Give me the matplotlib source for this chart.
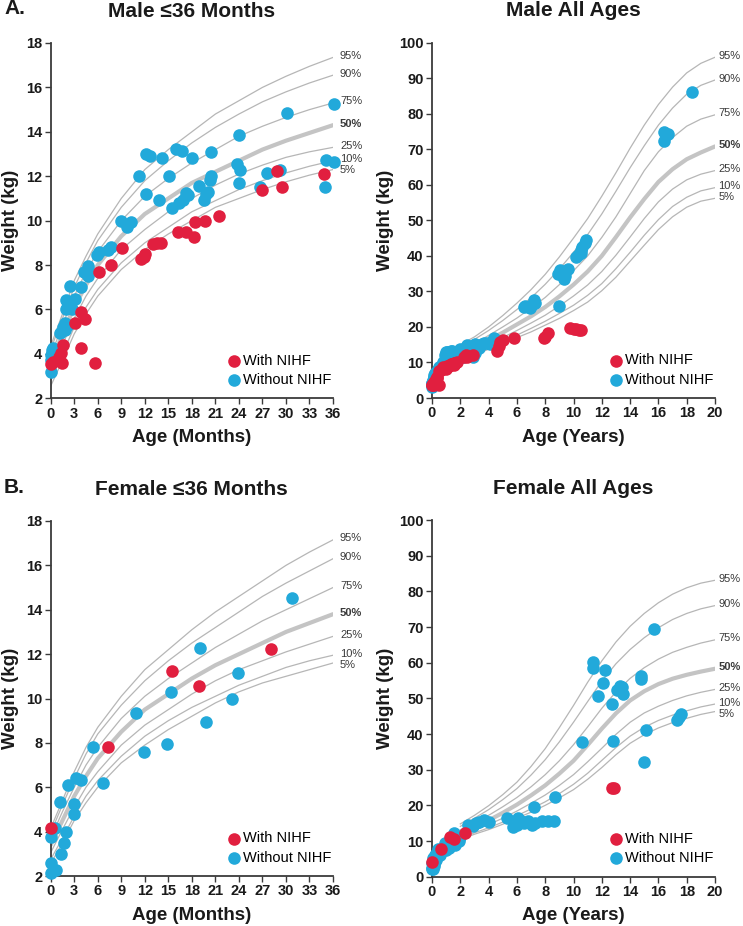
import numpy as np
import matplotlib
matplotlib.use('Agg')
import matplotlib.pyplot as plt

plt.rcParams['font.family'] = ['Liberation Sans', 'DejaVu Sans']

RED = '#E11F3F'
BLUE = '#22A9DA'
AXC = '#3a3a3a'

# ---- percentile curves ----
pct_labels = ['95%', '90%', '75%', '50%', '25%', '10%', '5%']

inf_ages = [0, 1.5, 3, 4.5, 6, 9, 12, 15, 18, 21, 24, 27, 30, 33, 36]
boy_inf_p95 = [4.35, 5.8, 7.3, 8.4, 9.4, 11.0, 12.3, 13.2, 14.0, 14.8, 15.4, 16.0, 16.5, 16.95, 17.35]
boy_inf_p90 = [4.2, 5.6, 7.0, 8.1, 9.1, 10.6, 11.8, 12.7, 13.5, 14.2, 14.8, 15.35, 15.8, 16.2, 16.55]
boy_inf_p75 = [3.9, 5.3, 6.6, 7.7, 8.6, 10.0, 11.1, 11.9, 12.6, 13.2, 13.8, 14.25, 14.65, 15.0, 15.3]
boy_inf_p50 = [3.5, 4.9, 6.1, 7.1, 8.0, 9.3, 10.3, 11.0, 11.7, 12.2, 12.7, 13.2, 13.6, 13.95, 14.3]
boy_inf_p25 = [3.15, 4.4, 5.6, 6.6, 7.4, 8.7, 9.6, 10.4, 11.0, 11.6, 12.1, 12.5, 12.85, 13.1, 13.3]
boy_inf_p10 = [2.8, 4.0, 5.2, 6.1, 6.9, 8.1, 9.0, 9.7, 10.4, 10.9, 11.4, 11.8, 12.15, 12.45, 12.7]
boy_inf_p5 = [2.55, 3.7, 4.9, 5.8, 6.6, 7.8, 8.7, 9.4, 10.0, 10.6, 11.0, 11.4, 11.75, 12.05, 12.3]

girl_inf_p95 = [4.15, 5.4, 6.7, 7.8, 8.7, 10.1, 11.3, 12.2, 13.1, 13.9, 14.6, 15.3, 16.0, 16.6, 17.15]
girl_inf_p90 = [3.95, 5.2, 6.4, 7.5, 8.4, 9.7, 10.8, 11.7, 12.5, 13.2, 13.9, 14.6, 15.2, 15.75, 16.3]
girl_inf_p75 = [3.7, 4.9, 6.0, 7.0, 7.8, 9.1, 10.1, 10.9, 11.6, 12.3, 12.9, 13.5, 14.0, 14.5, 15.0]
girl_inf_p50 = [3.4, 4.5, 5.6, 6.5, 7.3, 8.5, 9.5, 10.2, 10.9, 11.5, 12.0, 12.5, 13.0, 13.4, 13.8]
girl_inf_p25 = [3.05, 4.1, 5.1, 6.0, 6.7, 7.9, 8.8, 9.5, 10.2, 10.8, 11.3, 11.7, 12.1, 12.45, 12.8]
girl_inf_p10 = [2.75, 3.7, 4.7, 5.6, 6.3, 7.4, 8.3, 9.0, 9.6, 10.1, 10.6, 11.0, 11.4, 11.7, 11.95]
girl_inf_p5 = [2.55, 3.5, 4.5, 5.3, 6.0, 7.1, 7.9, 8.6, 9.2, 9.8, 10.3, 10.7, 11.0, 11.3, 11.6]

child_ages = [2, 3, 4, 5, 6, 7, 8, 9, 10, 11, 12, 13, 14, 15, 16, 17, 18, 19, 20]
boy_ch_p95 = [15.0, 17.2, 20.0, 23.2, 26.7, 30.5, 34.8, 39.7, 45.0, 50.5, 56.8, 63.4, 70.3, 76.8, 82.6, 87.5, 91.5, 94.2, 95.9]
boy_ch_p90 = [14.5, 16.5, 19.0, 21.8, 24.9, 28.2, 32.0, 36.3, 41.0, 46.0, 51.8, 58.2, 64.8, 71.0, 76.8, 81.6, 85.5, 88.0, 89.5]
boy_ch_p75 = [13.6, 15.3, 17.6, 20.0, 22.5, 25.3, 28.3, 31.9, 35.8, 40.0, 45.2, 51.0, 57.5, 64.0, 69.3, 73.3, 76.5, 78.5, 79.7]
boy_ch_p50 = [12.7, 14.3, 16.3, 18.4, 20.7, 23.0, 25.6, 28.6, 31.9, 35.6, 40.0, 45.3, 50.8, 56.0, 60.8, 64.4, 67.2, 69.1, 70.8]
boy_ch_p25 = [11.9, 13.4, 15.2, 17.0, 19.0, 21.1, 23.3, 25.9, 28.7, 31.8, 35.6, 40.2, 45.3, 50.5, 55.2, 58.8, 61.4, 63.0, 64.0]
boy_ch_p10 = [11.2, 12.6, 14.2, 15.9, 17.7, 19.6, 21.6, 23.8, 26.1, 28.9, 32.2, 36.4, 41.0, 45.8, 50.2, 53.9, 56.5, 58.3, 59.2]
boy_ch_p5 = [10.8, 12.2, 13.7, 15.3, 17.0, 18.6, 20.5, 22.4, 24.6, 27.0, 30.2, 34.0, 38.5, 43.0, 47.4, 51.0, 53.7, 55.4, 56.2]

girl_ch_p95 = [14.8, 17.2, 19.9, 23.0, 26.5, 30.9, 35.9, 41.8, 48.0, 54.5, 60.5, 65.8, 70.2, 73.8, 76.8, 79.2, 81.0, 82.3, 83.1]
girl_ch_p90 = [14.1, 16.4, 18.8, 21.6, 24.7, 28.5, 32.8, 37.8, 43.3, 49.1, 54.8, 59.7, 63.7, 67.0, 69.8, 72.1, 73.8, 75.1, 76.0]
girl_ch_p75 = [13.1, 15.2, 17.2, 19.6, 22.2, 25.2, 28.6, 32.5, 37.0, 42.0, 47.2, 51.8, 55.6, 58.6, 61.0, 62.9, 64.3, 65.5, 66.4]
girl_ch_p50 = [12.2, 14.1, 15.8, 17.9, 20.2, 22.8, 25.6, 28.9, 32.5, 36.9, 41.5, 45.8, 49.4, 52.0, 54.0, 55.5, 56.6, 57.5, 58.3]
girl_ch_p25 = [11.3, 13.1, 14.6, 16.4, 18.4, 20.6, 22.9, 25.6, 28.6, 32.2, 36.0, 39.9, 43.3, 45.9, 47.8, 49.4, 50.7, 51.7, 52.5]
girl_ch_p10 = [10.7, 12.3, 13.7, 15.3, 17.1, 19.0, 21.0, 23.3, 25.9, 29.0, 32.6, 36.2, 39.4, 41.9, 43.8, 45.3, 46.5, 47.6, 48.4]
girl_ch_p5 = [10.4, 11.9, 13.2, 14.7, 16.4, 18.1, 20.0, 22.1, 24.4, 27.3, 30.6, 34.2, 37.4, 39.8, 41.7, 43.2, 44.4, 45.5, 46.3]

# ---- patients, age <= 36 months (months, kg) ----
male_inf_with_age = [28.8, 34.9, 26.9, 29.5, 21.5, 18.4, 19.7, 18.3, 16.2, 17.2, 13.5, 14.1, 13.1, 12.0, 11.5,
                     11.9, 9.1, 7.7, 6.2, 3.9, 4.4, 3.1, 1.6, 1.3, 1.4, 3.9, 5.6, 0.0, 0.3, 1.0]
male_inf_with_wt = [12.23, 12.1, 11.4, 11.5, 10.2, 9.95, 9.97, 9.28, 9.5, 9.5, 8.99, 8.99, 8.96, 8.5, 8.26,
                    8.36, 8.77, 8.0, 7.68, 5.9, 5.55, 5.37, 4.4, 4.02, 3.6, 4.25, 3.57, 3.55, 3.65, 3.87]
male_inf_without_age = [36.1, 30.1, 24.0, 12.2, 12.6, 14.2, 16.0, 16.7, 18.0, 20.4, 11.2, 15.1, 23.8, 24.1, 24.0,
                        20.5, 20.3, 27.6, 29.2, 35.1, 36.1, 35.0, 26.7, 18.9, 20.1, 17.5, 17.3, 12.1, 13.8, 16.3,
                        16.9, 15.5, 19.6, 19.8, 9.0, 9.7, 10.3, 6.1, 5.9, 7.3, 7.7, 4.2, 4.7, 4.8, 4.7,
                        3.9, 2.5, 2.0, 3.1, 2.5, 2.0, 2.7, 1.8, 1.6, 1.2, 2.2, 1.8, 0.15, 0.0, 0.1, 0.0, 0.3]
male_inf_without_wt = [15.24, 14.83, 13.85, 13.0, 12.9, 12.84, 13.24, 13.13, 12.84, 13.08, 12.0, 12.03, 12.56, 12.3, 11.68,
                       12.03, 11.82, 12.13, 12.26, 12.72, 12.63, 11.53, 11.53, 11.55, 11.28, 11.15, 11.26, 11.22, 10.93, 10.78,
                       10.95, 10.55, 10.92, 11.2, 10.0, 9.7, 9.96, 8.6, 8.44, 8.66, 8.81, 7.69, 7.78, 7.94, 7.49,
                       7.01, 7.04, 6.42, 6.45, 6.27, 6.04, 6.04, 5.37, 5.22, 4.95, 5.29, 5.07, 4.17, 3.95, 3.72, 3.2, 4.25]

female_inf_with_age = [15.5, 28.1, 18.9, 7.3, 0.0]
female_inf_with_wt = [11.25, 12.24, 10.55, 7.83, 4.15]
female_inf_without_age = [30.8, 19.0, 23.9, 15.3, 23.1, 10.9, 19.8, 14.8, 11.9, 5.4, 6.7, 3.2, 3.9, 2.25, 1.2,
                          3.0, 3.0, 1.95, 1.7, 1.3, 0.0, 0.55, 0.0, 0.1, 0.64]
female_inf_without_wt = [14.55, 12.27, 11.15, 10.3, 9.97, 9.33, 8.92, 7.93, 7.57, 7.83, 6.17, 6.43, 6.32, 6.1, 5.32,
                         5.24, 4.78, 4.0, 3.47, 2.98, 3.74, 4.15, 2.57, 2.15, 2.27]

# ---- patients older than 36 months (years, kg) ----
male_old_with_age = [4.6, 4.75, 4.8, 5.04, 5.8, 7.9, 8.0, 8.2, 9.75, 10.0, 10.2, 10.4, 10.5]
male_old_with_wt = [13.3, 14.5, 15.8, 16.3, 17.0, 16.8, 17.3, 18.2, 19.8, 19.5, 19.3, 19.1, 19.0]
male_old_without_age = [3.3, 3.5, 3.7, 3.9, 4.1, 4.3, 4.4, 6.5, 6.6, 6.95, 7.1, 7.2, 7.3, 8.9, 9.0,
                        9.06, 9.1, 9.2, 9.3, 9.4, 9.6, 10.2, 10.35, 10.5, 10.5, 10.6, 10.8, 10.9, 16.4, 16.7,
                        16.4, 18.4]
male_old_without_wt = [14.2, 15.2, 15.4, 15.6, 15.3, 16.2, 16.9, 25.7, 25.9, 25.2, 26.2, 27.6, 26.6, 35.0, 26.0,
                       36.0, 35.0, 34.6, 33.6, 34.2, 36.3, 39.7, 40.2, 40.7, 41.6, 42.5, 43.5, 44.6, 74.8, 74.2,
                       72.2, 86.0]

female_old_with_age = [12.75, 12.85]
female_old_with_wt = [24.8, 24.8]
female_old_without_age = [2.9, 3.1, 3.3, 3.7, 4.0, 5.3, 5.7, 6.0, 6.1, 6.3, 6.5, 6.8, 7.05, 7.3, 7.75,
                          8.2, 8.6, 7.2, 8.7, 10.6, 12.8, 15.1, 15.0, 17.3, 17.45, 17.6, 11.7, 12.75, 13.1, 13.4,
                          13.5, 12.1, 11.4, 11.35, 12.2, 13.3, 14.8, 14.8, 15.7]
female_old_without_wt = [14.3, 15.1, 15.4, 16.0, 15.4, 16.4, 14.0, 14.6, 16.4, 15.5, 15.1, 15.5, 14.6, 15.1, 15.5,
                         15.5, 15.7, 19.6, 22.3, 37.7, 38.1, 41.1, 32.2, 43.9, 44.8, 45.6, 50.7, 48.4, 52.3, 53.3,
                         51.2, 54.3, 60.2, 58.4, 58.0, 53.5, 56.3, 55.3, 69.5]


W, H = 743, 926
fig = plt.figure(figsize=(W / 100, H / 100), dpi=100)


def box(x0, x1, ytop, ybot):
    return [x0 / W, 1 - ybot / H, (x1 - x0) / W, (ybot - ytop) / H]


def style(ax, xticks, yticks, xlab, ylab_x):
    for s in ['top', 'right']:
        ax.spines[s].set_visible(False)
    for s in ['left', 'bottom']:
        ax.spines[s].set_color(AXC)
        ax.spines[s].set_linewidth(1.3)
    ax.set_xticks(xticks)
    ax.set_yticks(yticks)
    ax.set_xlim(xticks[0], xticks[-1])
    ax.set_ylim(yticks[0], yticks[-1])
    ax.tick_params(direction='out', length=4, width=1, color=AXC, labelsize=10.5, pad=2, labelcolor='#1a1a1a')
    for t in ax.get_xticklabels() + ax.get_yticklabels():
        t.set_fontweight('bold')
    ax.set_xlabel(xlab, fontsize=13.5, fontweight='bold', color='#1a1a1a')
    ax.set_ylabel('Weight (kg)', fontsize=13.5, fontweight='bold', color='#1a1a1a')
    ax.xaxis.set_label_coords(0.5, -0.11)
    ax.xaxis.label.set_va('center')
    ax.yaxis.set_label_coords(ylab_x, 0.5)
    ax.yaxis.label.set_va('center')


def curves(ax, ages, series, dx):
    ends = []
    for lab, vals in zip(pct_labels, series):
        if lab == '50%':
            ax.plot(ages, vals, color='#c4c4c4', lw=3.0, solid_capstyle='round', zorder=1)
        else:
            ax.plot(ages, vals, color='#b6b6b6', lw=0.9, zorder=1)
        ends.append(vals[-1])
    # spread the end labels so they do not overlap
    pix = [ax.transData.transform((ages[-1], v))[1] for v in ends]
    for i in range(1, len(pix)):
        if pix[i - 1] - pix[i] < 11:
            pix[i] = pix[i - 1] - 11
    inv = ax.transData.inverted()
    for lab, p in zip(pct_labels, pix):
        y = inv.transform((0, p + 1.5))[1]
        ax.annotate(lab, xy=(ages[-1], y), xytext=(dx, 0), textcoords='offset points',
                    va='center', ha='left', fontsize=8.0, color='#3a3a3a',
                    fontweight='bold' if lab == '50%' else 'normal', annotation_clip=False)


def points(ax, wo_x, wo_y, w_x, w_y):
    ax.scatter(wo_x, wo_y, s=82, color=BLUE, linewidths=0, zorder=3, clip_on=False, label='Without NIHF')
    ax.scatter(w_x, w_y, s=82, color=RED, linewidths=0, zorder=4, clip_on=False, label='With NIHF')
    h, l = ax.get_legend_handles_labels()
    ax.legend(h[::-1], l[::-1], loc='lower right', bbox_to_anchor=(1.01, 0.02), frameon=False,
              fontsize=10.5, handletextpad=0.15, handlelength=1.0, labelspacing=0.35,
              borderpad=0.3, borderaxespad=0)


ax1 = fig.add_axes(box(50.7, 333, 43, 398.3))
ax2 = fig.add_axes(box(432, 715, 42.7, 398))
ax3 = fig.add_axes(box(50.7, 333, 521, 876))
ax4 = fig.add_axes(box(432, 715, 520, 876.7))

month_ticks = list(range(0, 37, 3))
year_ticks = list(range(0, 21, 2))
style(ax1, month_ticks, list(range(2, 19, 2)), 'Age (Months)', -0.144)
style(ax2, year_ticks, list(range(0, 101, 10)), 'Age (Years)', -0.163)
style(ax3, month_ticks, list(range(2, 19, 2)), 'Age (Months)', -0.144)
style(ax4, year_ticks, list(range(0, 101, 10)), 'Age (Years)', -0.163)

curves(ax1, inf_ages, [boy_inf_p95, boy_inf_p90, boy_inf_p75, boy_inf_p50, boy_inf_p25, boy_inf_p10, boy_inf_p5], 5)
curves(ax2, child_ages, [boy_ch_p95, boy_ch_p90, boy_ch_p75, boy_ch_p50, boy_ch_p25, boy_ch_p10, boy_ch_p5], 2.5)
curves(ax3, inf_ages, [girl_inf_p95, girl_inf_p90, girl_inf_p75, girl_inf_p50, girl_inf_p25, girl_inf_p10, girl_inf_p5], 5)
curves(ax4, child_ages, [girl_ch_p95, girl_ch_p90, girl_ch_p75, girl_ch_p50, girl_ch_p25, girl_ch_p10, girl_ch_p5], 2.5)

points(ax1, male_inf_without_age, male_inf_without_wt, male_inf_with_age, male_inf_with_wt)
points(ax3, female_inf_without_age, female_inf_without_wt, female_inf_with_age, female_inf_with_wt)

# all-ages panels: infants converted to years plus the older patients
points(ax2,
       list(np.array(male_inf_without_age) / 12) + male_old_without_age,
       male_inf_without_wt + male_old_without_wt,
       list(np.array(male_inf_with_age) / 12) + male_old_with_age,
       male_inf_with_wt + male_old_with_wt)
points(ax4,
       list(np.array(female_inf_without_age) / 12) + female_old_without_age,
       female_inf_without_wt + female_old_without_wt,
       list(np.array(female_inf_with_age) / 12) + female_old_with_age,
       female_inf_with_wt + female_old_with_wt)

for ax, title in [(ax1, 'Male \u226436 Months'), (ax2, 'Male All Ages'),
                  (ax3, 'Female \u226436 Months'), (ax4, 'Female All Ages')]:
    ax.set_title(title, fontsize=15, fontweight='bold', pad=19, color='#1a1a1a')

fig.text(4 / W, 1 - 9 / H, 'A.', fontsize=15, fontweight='bold', va='center', color='#1a1a1a')
fig.text(4 / W, 1 - 487 / H, 'B.', fontsize=15, fontweight='bold', va='center', color='#1a1a1a')

fig.savefig('out.png', dpi=100, facecolor='white')
